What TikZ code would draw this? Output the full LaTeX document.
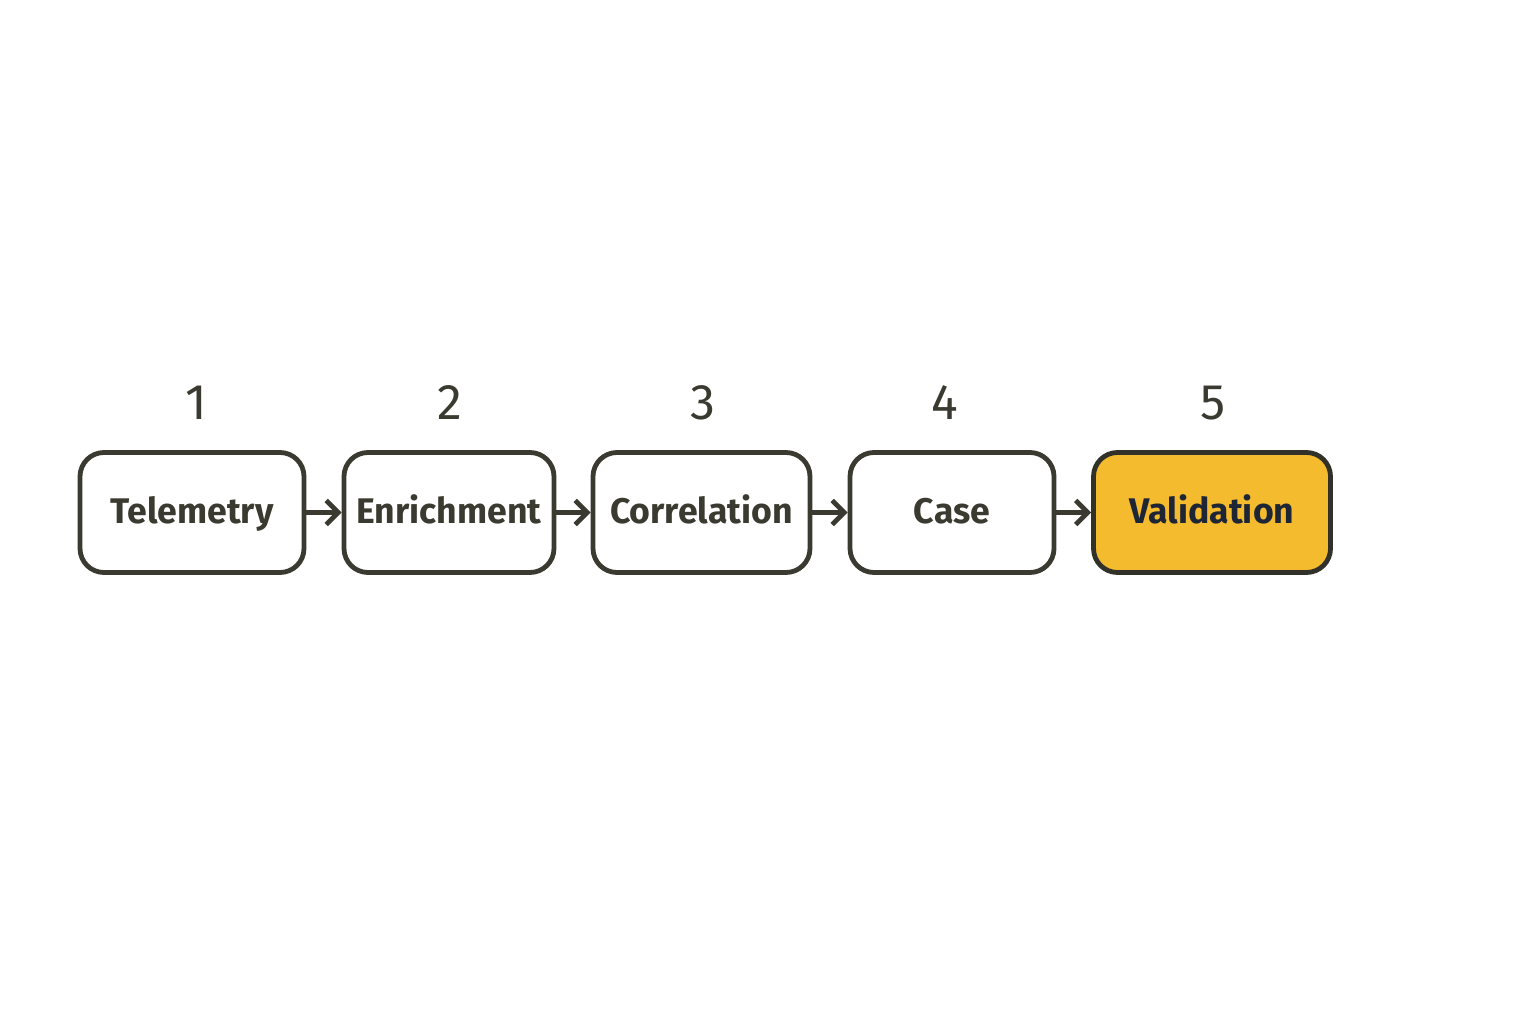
\documentclass[tikz,border=0pt]{standalone}
\usepackage{fontspec}
\setmainfont{Fira Sans}
\usepackage{tikz}
\usetikzlibrary{arrows.meta}

\definecolor{ink}{HTML}{3A3A30}
\definecolor{gold}{HTML}{F5BB2E}
\definecolor{navy}{HTML}{1E2636}

\begin{document}
\begin{tikzpicture}[x=0.5pt,y=0.5pt,
  stage/.style={draw=ink, line width=2.4pt, rounded corners=12pt, minimum height=60pt,
    text height=11pt, text depth=0pt, inner xsep=2pt,
    font=\fontsize{17.8}{20}\selectfont\bfseries, text=ink, fill=white},
  num/.style={font=\fontsize{25}{28}\selectfont, text=ink},
  flow/.style={draw=ink, line width=2.4pt, shorten <=-1pt,
    -{Straight Barb[length=6pt,width=12pt,line width=2.4pt]}}]
        \useasboundingbox (0,0) rectangle (1536,1024);
        \node[stage, minimum width=112pt] (tel) at (192,511.5) {Telemetry};
        \node[stage, minimum width=105pt] (enr) at (449,511.5) {Enrichment};
        \node[stage, minimum width=108.5pt] (cor) at (701.5,511.5) {Correlation};
        \node[stage, minimum width=102pt] (cas) at (952,511.5) {Case};
        \node[stage, minimum width=118.5pt, fill=gold, text=navy, draw=ink!85!black] (val) at (1212,511.5) {Validation};
        \node[num] (n1) at (196,621) {1};
        \node[num] (n2) at (450,621) {2};
        \node[num] (n3) at (703,621) {3};
        \node[num] (n4) at (945,621) {4};
        \node[num] (n5) at (1213,621) {5};
        \draw[flow] (tel) -- (enr);
        \draw[flow] (enr) -- (cor);
        \draw[flow] (cor) -- (cas);
        \draw[flow] (cas) -- (val);
\end{tikzpicture}
\end{document}
